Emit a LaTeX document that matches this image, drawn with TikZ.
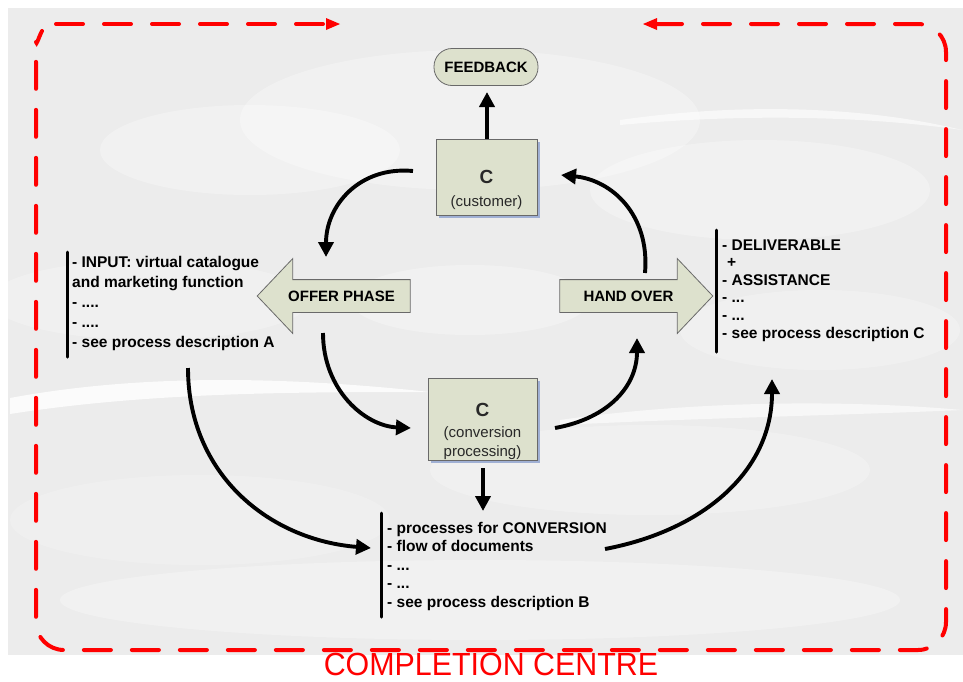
\documentclass[tikz,border=0pt]{standalone}
\usepackage{fontspec}
\setmainfont{Liberation Sans}
\newfontfamily\narrowsf[FakeStretch=0.95]{Liberation Sans}
\usetikzlibrary{arrows.meta,shadows,shapes.arrows}
\definecolor{sage}{RGB}{221,225,205}
\definecolor{edgegray}{RGB}{105,105,105}
\definecolor{shadowblue}{RGB}{160,176,212}
\definecolor{bggray}{RGB}{236,236,236}
\definecolor{ccred}{RGB}{255,0,0}
\definecolor{boxtext}{RGB}{40,40,40}
\begin{document}
\begin{tikzpicture}[x=1pt,y=-1pt,
  cbox/.style={draw=edgegray, fill=sage, line width=0.8pt,
    drop shadow={shadow xshift=3pt,shadow yshift=-3pt,fill=shadowblue,opacity=1}},
  pill/.style={draw=edgegray, fill=sage, line width=0.8pt, rounded corners=18pt,
    minimum width=104pt, minimum height=37pt, font=\fontsize{15}{18}\selectfont\bfseries},
  phase/.style={single arrow, draw=edgegray, fill=sage, line width=0.8pt,
    minimum height=153pt, single arrow head extend=21pt, single arrow tip angle=93,
    text height=11pt, text depth=0pt, inner ysep=10.5pt, inner xsep=4pt,
    font=\fontsize{15}{18}\selectfont\bfseries},
  tblock/.style={align=left, inner sep=0pt, anchor=base west},
  bar/.style={line width=3pt, line cap=round},
  conn/.style={line width=3.9pt, -{Triangle[length=15pt,width=15pt]}},
  redline/.style={draw=ccred, line width=4pt, dash pattern=on 27pt off 21pt, line cap=round}
]
\useasboundingbox (0,0) rectangle (963,681);
% background sky
\fill[white] (0,0) rectangle (963,681);
\fill[bggray] (8,8) rectangle (963,655);
\begin{scope}[white]
\fill[opacity=.3] (470,120) ellipse (230pt and 70pt);
\fill[opacity=.3] (250,150) ellipse (150pt and 45pt);
\fill[opacity=.3] (760,190) ellipse (170pt and 50pt);
\fill[opacity=.25] (150,300) ellipse (160pt and 40pt);
\fill[opacity=.25] (820,330) ellipse (140pt and 40pt);
\fill[opacity=.3] (470,300) ellipse (120pt and 35pt);
\fill[opacity=.25] (650,470) ellipse (220pt and 45pt);
\fill[opacity=.2] (200,520) ellipse (190pt and 45pt);
\fill[opacity=.3] (480,600) ellipse (420pt and 40pt);
\fill[opacity=.8] (10,398) .. controls (150,372) and (300,378) .. (430,392)
   .. controls (300,392) and (150,392) .. (10,414) -- cycle;
\fill[opacity=.6] (560,420) .. controls (700,400) and (850,400) .. (962,410)
   .. controls (850,415) and (700,418) .. (560,425) -- cycle;
\fill[opacity=.6] (620,120) .. controls (760,100) and (880,110) .. (962,130)
   .. controls (880,118) and (760,112) .. (620,125) -- cycle;
\end{scope}

% dashed completion-centre outline
\coordinate (tl1) at (56,24);
\coordinate (tl2) at (340,24);
\coordinate (tr1) at (643,24);
\coordinate (trc) at (946,24);
\coordinate (brc) at (946,650);
\coordinate (blc) at (36,650);
\coordinate (ltop) at (36,42);
\coordinate (lend) at (42,31);
\draw[redline] (tl1) -- ([xshift=-12pt]tl2);
\fill[ccred] (tl2) -- ++(-14,-6) -- ++(0,12) -- cycle;
\draw[redline, rounded corners=28pt] ([xshift=12pt]tr1) -- (trc) -- (brc) -- (blc) -- (ltop);
\draw[redline] (ltop) to[out=-90,in=-120] (lend);
\fill[ccred] (tr1) -- ++(14,-6) -- ++(0,12) -- cycle;
\node[text=ccred, font=\narrowsf\fontsize{32}{32}\selectfont, inner sep=0pt] (cc) at (491,664) {COMPLETION CENTRE};

% main nodes
\node[pill] (fb) at (486,67) {FEEDBACK};
\node[cbox, minimum width=101pt, minimum height=76pt] (cust) at (486.5,177) {};
\node[anchor=base, inner sep=0pt, font=\fontsize{19}{19}\selectfont\bfseries, text=boxtext] (custC) at (486.5,183) {C};
\node[anchor=base, inner sep=0pt, font=\fontsize{15}{18}\selectfont, text=boxtext] (custT) at (486.5,206) {(customer)};

\node[cbox, minimum width=109pt, minimum height=82pt] (conv) at (482.5,419) {};
\node[anchor=base, inner sep=0pt, font=\fontsize{19}{19}\selectfont\bfseries, text=boxtext] (convC) at (482.5,416) {C};
\node[anchor=base, inner sep=0pt, font=\fontsize{15}{18}\selectfont, text=boxtext] (convT1) at (482.5,437) {(conversion};
\node[anchor=base, inner sep=0pt, font=\fontsize{15}{18}\selectfont, text=boxtext] (convT2) at (482.5,456) {processing)};

\node[phase, shape border rotate=180] (offer) at (341.5,296) {OFFER PHASE};
\node[phase] (hand) at (628.5,296) {HAND OVER};

% text blocks (base anchor = baseline of last line)
\node[tblock, font=\fontsize{15.5}{20}\selectfont\bfseries] (lblA) at (72,347)
  {- INPUT: virtual catalogue\\and marketing function\\- ....\\- ....\\- see process description A};
\draw[bar] (67,252) -- (67,357);
\node[tblock, font=\fontsize{15.5}{17.6}\selectfont\bfseries] (lblC) at (722,338)
  {- DELIVERABLE\\\hspace{5pt}+\\- ASSISTANCE\\- ...\\- ...\\- see process description C};
\draw[bar] (716,230) -- (716,352);
\node[tblock, font=\fontsize{15.5}{18.5}\selectfont\bfseries] (lblB) at (387,607)
  {- processes for CONVERSION\\- flow of documents\\- ...\\- ...\\- see process description B};
\draw[bar] (381,513) -- (381,617);

% connector end points
\coordinate (c1s) at (413,171);
\coordinate (c1e) at (326,257);
\coordinate (c2s) at (323,333);
\coordinate (c2e) at (411,428);
\coordinate (c3s) at (555,428);
\coordinate (c3e) at (637,338);
\coordinate (c4s) at (645,273);
\coordinate (c4e) at (561,175);
\coordinate (c5s) at (483,468);
\coordinate (c5e) at (483,511);
\coordinate (c6s) at (188,368);
\coordinate (c6e) at (371,548);
\coordinate (c7s) at (605,549);
\coordinate (c7e) at (772,379);
\coordinate (c8s) at (487,139);
\coordinate (c8e) at (487,92);

\draw[conn] (c1s) .. controls (360,166) and (326,205) .. (c1e);
\draw[conn] (c2s) .. controls (323,390) and (365,426) .. (c2e);
\draw[conn] (c3s) .. controls (610,418) and (637,385) .. (c3e);
\draw[conn] (c4s) .. controls (650,215) and (612,180) .. (c4e);
\draw[conn] (c5s) -- (c5e);
\draw[conn] (c6s) .. controls (188,475) and (270,540) .. (c6e);
\draw[conn] (c7s) .. controls (705,530) and (772,470) .. (c7e);
\draw[conn] (c8s) -- (c8e);
\end{tikzpicture}
\end{document}
